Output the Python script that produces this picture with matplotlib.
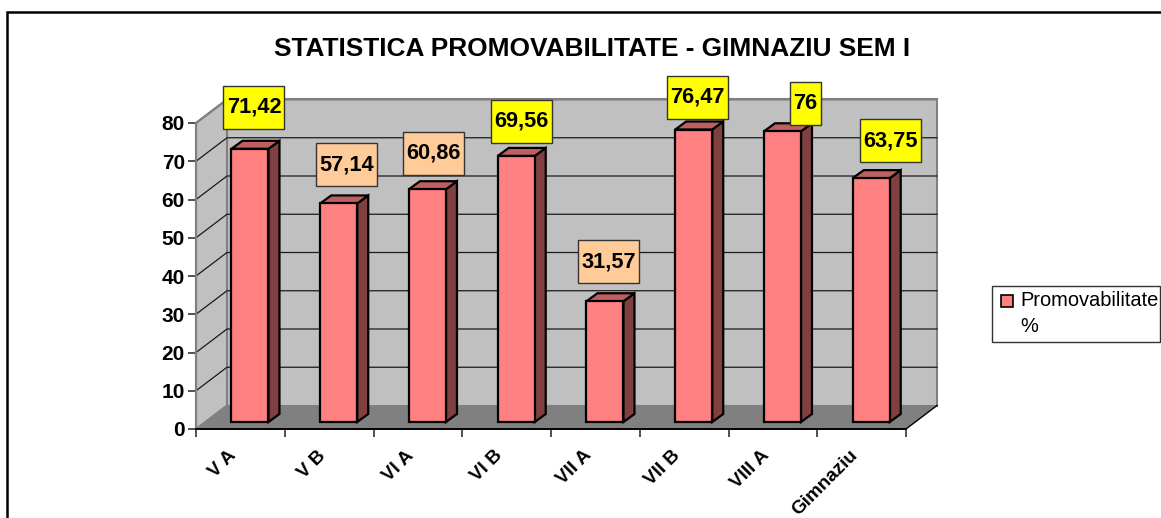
import numpy as np
import matplotlib
matplotlib.use('Agg')
import matplotlib.pyplot as plt
from matplotlib.patches import Polygon, Rectangle

plt.rcParams['font.family'] = ['Liberation Sans', 'DejaVu Sans']

# data
classes = ['V A', 'V B', 'VI A', 'VI B', 'VII A', 'VII B', 'VIII A', 'Gimnaziu']
promovabilitate = [71.42, 57.14, 60.86, 69.56, 31.57, 76.47, 76, 63.75]
value_labels = ['71,42', '57,14', '60,86', '69,56', '31,57', '76,47', '76', '63,75']
yticks = [0, 10, 20, 30, 40, 50, 60, 70, 80]

# label box centre relative to bar top, in pixels
label_dx = [4, 8, 6, 5, 4, 4, 23, 19]
label_dy = [41.7, 38.7, 36, 34.7, 39.7, 32.5, 27.5, 37.5]
label_colors = ['#ffff00', '#ffcc99', '#ffcc99', '#ffff00', '#ffcc99', '#ffff00', '#ffff00', '#ffff00']

W, H = 1161, 518
fig = plt.figure(figsize=(W / 100, H / 100), dpi=100, facecolor='white')
fig.add_artist(Rectangle((7 / W, -0.1), (W + 20) / W, 1.1 - 12 / H, transform=fig.transFigure,
                         fc='white', ec='black', lw=1.8, zorder=-1))

# front plane of the 3D box
x0, x1, y0, y80 = 196, 906, 429, 123
ax = fig.add_axes([x0 / W, 1 - y0 / H, (x1 - x0) / W, (y0 - y80) / H])
ax.set_xlim(0, len(classes))
ax.set_ylim(0, 80)
ax.patch.set_visible(False)
for s in ax.spines.values():
    s.set_visible(False)

px = len(classes) / (x1 - x0)   # data units per pixel
py = 80 / (y0 - y80)
wall_dx, wall_dy = 31 * px, 23.5 * py

def poly(pts, fc, ec='none', lw=1.0, z=1):
    ax.add_patch(Polygon(pts, closed=True, fc=fc, ec=ec, lw=lw, zorder=z, clip_on=False, joinstyle='miter'))

n = len(classes)
wall_gray = '#c0c0c0'
edge_gray = '#808080'
# back wall, side wall, floor
poly([(wall_dx, wall_dy), (n + wall_dx, wall_dy), (n + wall_dx, 80 + wall_dy), (wall_dx, 80 + wall_dy)], wall_gray, edge_gray, 1.5)
poly([(0, 0), (wall_dx, wall_dy), (wall_dx, 80 + wall_dy), (0, 80)], wall_gray, edge_gray, 1.5)
poly([(0, 0), (n, 0), (n + wall_dx, wall_dy), (wall_dx, wall_dy)], '#808080', 'none')

# gridlines
for t in yticks[1:-1]:
    ax.plot([0, wall_dx, n + wall_dx], [t, t + wall_dy, t + wall_dy], color='#1a1a1a', lw=0.9, zorder=2, clip_on=False)
ax.plot([0, wall_dx, n + wall_dx], [80, 80 + wall_dy, 80 + wall_dy], color=edge_gray, lw=1.5, zorder=2, clip_on=False)
ax.plot([n, n + wall_dx], [0, wall_dy], color='black', lw=1.0, zorder=2, clip_on=False)

# bars
bar_w = 37 * px
off_x, off_y = 9.6 * px, 7 * py
d_x, d_y = 11 * px, 8 * py
for i, v in enumerate(promovabilitate):
    l = i + 0.5 - bar_w / 2 + off_x
    r = l + bar_w
    b = off_y
    t = off_y + v
    poly([(r, b), (r + d_x, b + d_y), (r + d_x, t + d_y), (r, t)], '#804040', 'black', 1.6, 3)
    poly([(l, t), (r, t), (r + d_x, t + d_y), (l + d_x, t + d_y)], '#bf6060', 'black', 1.6, 3)
    poly([(l, b), (r, b), (r, t), (l, t)], '#ff8080', 'black', 1.6, 3)

    # value label boxes
    txt = value_labels[i]
    bw = (61 if len(txt) > 2 else 31) * px
    bh = 43 * py
    cx = (l + r) / 2 + label_dx[i] * px
    cy = t + label_dy[i] * py
    ax.add_patch(Rectangle((cx - bw / 2, cy - bh / 2), bw, bh, fc=label_colors[i], ec='#333333', lw=1.0,
                           zorder=4, clip_on=False))
    ax.text(cx, cy, txt, ha='center', va='center', fontsize=15.7, fontweight='bold', zorder=5)

# axes
ax.set_xticks(np.arange(n + 1))
ax.set_xticklabels([])
ax.set_yticks(yticks)
ax.set_yticklabels([str(t) for t in yticks], fontsize=15, fontweight='bold')
ax.tick_params(axis='y', length=6, width=1.2, color='#333333', pad=2)
ax.tick_params(axis='x', length=6, width=1.2, color='#333333')
ax.plot([0, n], [0, 0], color='black', lw=1.4, zorder=4, clip_on=False)
ax.plot([0, 0], [0, 80], color=edge_gray, lw=1.5, zorder=2, clip_on=False)

for i, c in enumerate(classes):
    ax.annotate(c, (i + 0.5, 0), xytext=(-9, -13), textcoords='offset points', rotation=45,
                rotation_mode='anchor', ha='right', va='top', fontsize=13.6, fontweight='bold', annotation_clip=False)

fig.text(592 / W, 1 - 48.5 / H, 'STATISTICA PROMOVABILITATE - GIMNAZIU SEM I', ha='center', va='center',
         fontsize=18.9, fontweight='bold')

# legend
fig.add_artist(Rectangle((992 / W, 1 - 341.5 / H), 168 / W, 56 / H, transform=fig.transFigure,
                         fc='white', ec='#333333', lw=1.0))
fig.add_artist(Rectangle((1001 / W, 1 - 307 / H), 12 / W, 12 / H, transform=fig.transFigure,
                         fc='#ff8080', ec='black', lw=1.2))
fig.text(1020 / W, 1 - 301 / H, 'Promovabilitate', ha='left', va='center', fontsize=14.4)
fig.text(1020 / W, 1 - 327 / H, '%', ha='left', va='center', fontsize=14.4)

fig.savefig('out.png', dpi=100)
